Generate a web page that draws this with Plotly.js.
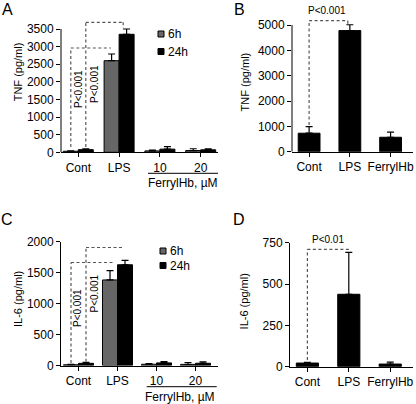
<!DOCTYPE html>
<html><head><meta charset="utf-8">
<script src="https://cdn.plot.ly/plotly-3.0.1.min.js"></script>
<style>html,body{margin:0;padding:0;background:#fff}#chart{width:416px;height:404px}</style>
</head><body><div id="chart"></div>
<script>
// ---------------- data ----------------
const groupCats = ['Cont', 'LPS', '10', '20'];
const seriesNames = ['6h', '24h'];
const tnf6h = [30, 2600, 40, 50];
const tnf6hErr = [10, 190, 20, 50];
const tnf24h = [75, 3350, 90, 70];
const tnf24hErr = [25, 150, 70, 30];
const il6_6h = [12, 1380, 20, 18];
const il6_6hErr = [5, 150, 10, 30];
const il6_24h = [35, 1625, 42, 36];
const il6_24hErr = [15, 70, 22, 22];
const singleCats = ['Cont', 'LPS', 'FerrylHb'];
const tnfSingle = [730, 4780, 570];
const tnfSingleErr = [260, 230, 200];
const il6Single = [22, 438, 16];
const il6SingleErr = [4, 254, 12];
const tnfTicksA = [0, 500, 1000, 1500, 2000, 2500, 3000, 3500];
const tnfTicksB = [0, 1000, 2000, 3000, 4000, 5000];
const il6TicksC = [0, 500, 1000, 1500, 2000];
const il6TicksD = [0, 250, 500, 750];
const pLabel = 'P<0.001';
const pLabelD = 'P<0.01';
const tnfTitle = 'TNF (pg/ml)';
const il6Title = 'IL-6 (pg/ml)';
const ferrylTitle = 'FerrylHb, µM';

// ---------------- helpers ----------------
const W = 416, H = 404;
const PX = x => x / W;
const PY = y => 1 - y / H;
const FONT = 'Liberation Sans, Arial, Helvetica, sans-serif';
const zeros = n => new Array(n).fill(0);
const GRAY = '#666666';
const DASH = {color: '#555555', width: 1.2, dash: '3px,2.5px'};

function yDomain(zeroPx, tickTopPx, tickTopVal, rangeTop) {
  const k = (zeroPx - tickTopPx) / tickTopVal;
  return [PY(zeroPx), PY(zeroPx - k * rangeTop)];
}

const wA = 15 / 40.8, wC = 15 / 39, wS = 22 / 41.1;

function barTrace(x, y, err, xa, ya, color, width, offset, name) {
  const t = {
    type: 'bar', x: x, y: y, xaxis: xa, yaxis: ya, name: name, showlegend: false,
    width: width, marker: {color: color, line: {color: '#000', width: 1}},
    error_y: {type: 'data', symmetric: false, array: err, arrayminus: zeros(err.length),
              color: '#000', thickness: 1.2, width: 3.5},
    hoverinfo: 'skip'
  };
  if (offset !== undefined) t.offset = offset;
  return t;
}

const data = [
  barTrace(groupCats, tnf6h, tnf6hErr, 'x', 'y', GRAY, wA, -wA, seriesNames[0]),
  barTrace(groupCats, tnf24h, tnf24hErr, 'x', 'y', '#000', wA, 0, seriesNames[1]),
  barTrace(singleCats, tnfSingle, tnfSingleErr, 'x2', 'y2', '#000', wS, -wS / 2, 'TNF'),
  barTrace(groupCats, il6_6h, il6_6hErr, 'x3', 'y3', GRAY, wC, -wC, seriesNames[0]),
  barTrace(groupCats, il6_24h, il6_24hErr, 'x3', 'y3', '#000', wC, 0, seriesNames[1]),
  barTrace(singleCats, il6Single, il6SingleErr, 'x4', 'y4', '#000', wS, -wS / 2, 'IL-6')
];

function xAxis(domain, range, cats, anchor) {
  return {
    domain: domain, range: range, type: 'category', categoryarray: cats, anchor: anchor,
    showline: true, linecolor: '#000', linewidth: 1, ticks: 'outside', ticklen: 4,
    tickwidth: 1, tickcolor: '#000', showgrid: false, zeroline: false,
    tickfont: {family: FONT, size: 12, color: '#000'}, fixedrange: true
  };
}
function yAxis(domain, range, ticks, anchor, showline) {
  return {
    domain: domain, range: range, anchor: anchor, tickvals: ticks, ticktext: ticks.map(String),
    showline: showline, linecolor: '#000', linewidth: 1, ticks: 'outside', ticklen: 4,
    tickwidth: 1, tickcolor: '#000', showgrid: false, zeroline: false,
    tickfont: {family: FONT, size: 12, color: '#000'}, fixedrange: true
  };
}

const shapes = [];
function dline(xref, yref, x0, y0, x1, y1) {
  shapes.push({type: 'line', xref: xref, yref: yref, x0: x0, y0: y0, x1: x1, y1: y1, line: DASH});
}
function sline(xref, yref, x0, y0, x1, y1, w) {
  shapes.push({type: 'line', xref: xref, yref: yref, x0: x0, y0: y0, x1: x1, y1: y1,
               line: {color: '#000', width: w || 1}});
}
function rect(x0, y0, x1, y1, color) {
  shapes.push({type: 'rect', xref: 'paper', yref: 'paper', x0: PX(x0), x1: PX(x1), y0: PY(y0), y1: PY(y1),
               fillcolor: color, line: {color: '#000', width: 1}});
}

// manual y-axis lines for A and B (ranges extended to fit the brackets)
sline('paper', 'y', PX(61), 0, PX(61), 3500);
sline('paper', 'y2', PX(292), 0, PX(292), 5000);

// brackets A
dline('x', 'y', -wA / 2, 150, -wA / 2, 2960);
dline('x', 'y', -wA / 2, 2960, 0.8, 2960);
dline('x', 'y', wA / 2, 150, wA / 2, 3690);
dline('x', 'y', wA / 2, 3690, 1.1, 3690);
dline('x', 'y', 1.1, 3690, 1.1, 3520);
// brackets B
dline('x2', 'y2', 0, 1050, 0, 5170);
dline('x2', 'y2', 0, 5170, 0.95, 5170);
dline('x2', 'y2', 0.95, 5170, 0.95, 5030);
// brackets C
dline('x3', 'y3', -wC / 2, 40, -wC / 2, 1661);
dline('x3', 'y3', -wC / 2, 1661, 0.93, 1661);
dline('x3', 'y3', wC / 2, 60, wC / 2, 1903);
dline('x3', 'y3', wC / 2, 1903, 1.15, 1903);
// brackets D
dline('x4', 'y4', 0, 40, 0, 710);
dline('x4', 'y4', 0, 710, 1.0, 710);

// legends (drawn)
rect(158, 31, 164, 37, GRAY);
rect(158, 48.5, 164, 54.5, '#000');
rect(160, 248, 166, 254, GRAY);
rect(160, 262.5, 166, 268.5, '#000');

// FerrylHb underlines
sline('paper', 'paper', PX(148), PY(173.3), PX(218), PY(173.3));
sline('paper', 'paper', PX(146.7), PY(386.7), PX(216.7), PY(386.7));

const annotations = [];
function ann(o) {
  annotations.push(Object.assign({showarrow: false, xanchor: 'center', yanchor: 'middle',
    font: {family: FONT, size: 12, color: '#000'}}, o));
}
function pann(xref, yref, x, y, text, angle) {
  ann({xref: xref, yref: yref, x: x, y: y, text: text, textangle: angle || 0,
       font: {family: FONT, size: 10, color: '#000'}});
}
// panel letters
ann({xref: 'paper', yref: 'paper', x: PX(7), y: PY(9.5), text: 'A', font: {family: FONT, size: 16, color: '#000'}});
ann({xref: 'paper', yref: 'paper', x: PX(240), y: PY(9), text: 'B', font: {family: FONT, size: 16, color: '#000'}});
ann({xref: 'paper', yref: 'paper', x: PX(7), y: PY(219), text: 'C', font: {family: FONT, size: 16, color: '#000'}});
ann({xref: 'paper', yref: 'paper', x: PX(238.5), y: PY(219), text: 'D', font: {family: FONT, size: 16, color: '#000'}});
// y titles
ann({xref: 'paper', yref: 'paper', x: PX(18.3), y: PY(72), text: tnfTitle, textangle: -90, font: {family: FONT, size: 11, color: '#000'}});
ann({xref: 'paper', yref: 'paper', x: PX(244.7), y: PY(81.7), text: tnfTitle, textangle: -90, font: {family: FONT, size: 11, color: '#000'}});
ann({xref: 'paper', yref: 'paper', x: PX(18), y: PY(299), text: il6Title, textangle: -90, font: {family: FONT, size: 11, color: '#000'}});
ann({xref: 'paper', yref: 'paper', x: PX(243.7), y: PY(301.7), text: il6Title, textangle: -90, font: {family: FONT, size: 11, color: '#000'}});
// legend texts
ann({xref: 'paper', yref: 'paper', x: PX(166), y: PY(34), xanchor: 'left', text: seriesNames[0]});
ann({xref: 'paper', yref: 'paper', x: PX(166), y: PY(51.5), xanchor: 'left', text: seriesNames[1]});
ann({xref: 'paper', yref: 'paper', x: PX(168), y: PY(251), xanchor: 'left', text: seriesNames[0]});
ann({xref: 'paper', yref: 'paper', x: PX(168), y: PY(265.5), xanchor: 'left', text: seriesNames[1]});
// FerrylHb labels
ann({xref: 'paper', yref: 'paper', x: PX(183), y: PY(182.7), text: ferrylTitle});
ann({xref: 'paper', yref: 'paper', x: PX(180), y: PY(396.7), text: ferrylTitle});
// p-values
pann('x', 'y', 0.017, 1797, pLabel, -90);
pann('x', 'y', 0.41, 1939, pLabel, -90);
pann('x3', 'y3', -0.04, 927, pLabel, -90);
pann('x3', 'y3', 0.41, 1153, pLabel, -90);
pann('x2', 'paper', 0.43, PY(10), pLabel, 0);
pann('x4', 'paper', 0.5, PY(239), pLabelD, 0);

const layout = {
  width: W, height: H, margin: {l: 0, r: 0, t: 0, b: 0},
  paper_bgcolor: '#fff', plot_bgcolor: 'rgba(0,0,0,0)',
  barmode: 'overlay', showlegend: false,
  font: {family: FONT, color: '#000', size: 12},
  xaxis: xAxis([PX(61), PX(218)], [-0.424, 3.424], groupCats, 'y'),
  yaxis: yAxis(yDomain(152.3, 29, 3500, 3750), [0, 3750], tnfTicksA, 'x', false),
  xaxis2: xAxis([PX(292), PX(413)], [-0.42, 2.55], singleCats, 'y2'),
  yaxis2: yAxis(yDomain(151.7, 25, 5000, 5400), [0, 5400], tnfTicksB, 'x2', false),
  xaxis3: xAxis([PX(61), PX(218)], [-0.449, 3.577], groupCats, 'y3'),
  yaxis3: yAxis(yDomain(365.5, 241.5, 2000, 2000), [0, 2000], il6TicksC, 'x3', true),
  xaxis4: xAxis([PX(290), PX(413)], [-0.42, 2.55], singleCats, 'y4'),
  yaxis4: yAxis(yDomain(366.7, 242.7, 750, 750), [0, 750], il6TicksD, 'x4', true),
  shapes: shapes, annotations: annotations
};

Plotly.newPlot('chart', data, layout, {displayModeBar: false, staticPlot: true});
</script>
</body></html>
